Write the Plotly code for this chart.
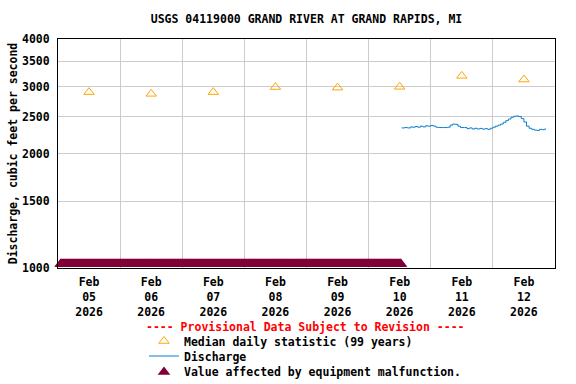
import plotly.graph_objects as go
import pandas as pd
import math

TITLE = "USGS 04119000 GRAND RIVER AT GRAND RAPIDS, MI"
Y_TITLE = "Discharge, cubic feet per second"

# Median daily statistic (99 years), plotted at noon of each day
median_dates = ["2026-02-05 12:00", "2026-02-06 12:00", "2026-02-07 12:00", "2026-02-08 12:00",
                "2026-02-09 12:00", "2026-02-10 12:00", "2026-02-11 12:00", "2026-02-12 12:00"]
median_values = [2900, 2870, 2900, 2990, 2980, 2995, 3200, 3130]

# Discharge (cfs)
discharge_times = [
    "2026-02-10 12:45", "2026-02-10 14:00", "2026-02-10 15:00", "2026-02-10 16:15", "2026-02-10 17:00",
    "2026-02-10 18:00", "2026-02-10 19:00", "2026-02-10 20:00", "2026-02-10 21:00", "2026-02-10 22:00",
    "2026-02-10 23:00", "2026-02-11 00:00", "2026-02-11 01:00", "2026-02-11 02:00", "2026-02-11 03:00",
    "2026-02-11 05:00", "2026-02-11 06:30", "2026-02-11 07:30", "2026-02-11 08:30", "2026-02-11 09:30",
    "2026-02-11 10:30", "2026-02-11 11:30", "2026-02-11 13:00", "2026-02-11 14:00", "2026-02-11 15:00",
    "2026-02-11 16:00", "2026-02-11 17:00", "2026-02-11 18:00", "2026-02-11 19:00", "2026-02-11 20:00",
    "2026-02-11 21:00", "2026-02-11 22:00", "2026-02-11 23:00", "2026-02-12 00:00", "2026-02-12 01:00",
    "2026-02-12 02:00", "2026-02-12 03:00", "2026-02-12 04:00", "2026-02-12 05:00", "2026-02-12 06:00",
    "2026-02-12 07:00", "2026-02-12 08:00", "2026-02-12 09:00", "2026-02-12 10:00", "2026-02-12 11:00",
    "2026-02-12 12:00", "2026-02-12 13:00", "2026-02-12 14:00", "2026-02-12 15:00", "2026-02-12 16:00",
    "2026-02-12 17:00", "2026-02-12 18:00", "2026-02-12 19:00", "2026-02-12 20:00", "2026-02-12 20:30",
]
discharge_values = [
    2335, 2340, 2335, 2350, 2345,
    2355, 2345, 2360, 2350, 2365,
    2360, 2370, 2360, 2345, 2340,
    2340, 2345, 2375, 2390, 2385,
    2360, 2340, 2340, 2325, 2335,
    2320, 2330, 2320, 2328, 2318,
    2325, 2315, 2330, 2345, 2360,
    2375, 2390, 2415, 2440, 2465,
    2490, 2505, 2510, 2500, 2470,
    2420, 2360, 2330, 2315, 2305,
    2300, 2315, 2310, 2320, 2318,
]

# Period flagged "Value affected by equipment malfunction" (15-minute records)
MALFUNCTION_START = "2026-02-05 01:00"
MALFUNCTION_END = "2026-02-10 12:30"
MALFUNCTION_LEVEL = 1024

# Axis
x_range = ["2026-02-05 00:00", "2026-02-13 00:00"]
day_boundaries = ["2026-02-06", "2026-02-07", "2026-02-08", "2026-02-09",
                  "2026-02-10", "2026-02-11", "2026-02-12"]
x_tick_labels = ["Feb<br>05<br>2026", "Feb<br>06<br>2026", "Feb<br>07<br>2026", "Feb<br>08<br>2026",
                 "Feb<br>09<br>2026", "Feb<br>10<br>2026", "Feb<br>11<br>2026", "Feb<br>12<br>2026"]
y_ticks = [1000, 1500, 2000, 2500, 3000, 3500, 4000]
y_min, y_max = 1000, 4000

FONT = "DejaVu Sans Mono"
FS = 11.5

malf_times = pd.date_range(MALFUNCTION_START, MALFUNCTION_END, freq="15min")

fig = go.Figure()
fig.add_trace(go.Scatter(
    x=median_dates, y=median_values, mode="markers",
    name="<b>Median daily statistic (99 years)</b>", legend="legend",
    marker=dict(symbol="triangle-up-open", size=9, color="#FFA500", line=dict(width=1, color="#FFA500")),
))
fig.add_trace(go.Scatter(
    x=discharge_times, y=discharge_values, mode="lines",
    name="<b>Discharge</b>", legend="legend2",
    line=dict(color="#0A7FCF", width=1, shape="hv"),
))
fig.add_trace(go.Scatter(
    x=malf_times, y=[MALFUNCTION_LEVEL] * len(malf_times), mode="markers",
    name="<b>Value affected by equipment malfunction.</b>", legend="legend3",
    marker=dict(symbol="triangle-up", size=11, color="#800038", line=dict(width=0)),
    cliponaxis=False,
))

def leg(y):
    return dict(x=0.173, xanchor="left", y=y, yanchor="middle", orientation="v",
                font=dict(family=FONT, size=FS), bgcolor="rgba(0,0,0,0)", itemwidth=30)

fig.update_layout(
    width=576, height=384,
    margin=dict(l=58, r=21, t=39, b=116, autoexpand=False),
    paper_bgcolor="white", plot_bgcolor="white",
    font=dict(family=FONT, size=FS, color="black"),
    title=dict(text="<b>" + TITLE + "</b>", x=(58 + 555) / 2 / 576, xanchor="center",
               y=1 - 19 / 384, yanchor="middle", font=dict(family=FONT, size=FS)),
    showlegend=True,
    legend=leg(-0.3188),
    legend2=leg(-0.3843),
    legend3=leg(-0.4541),
    xaxis=dict(
        type="date", range=x_range, automargin=False,
        tickvals=median_dates, ticktext=["<b>" + t.replace("<br>", "</b><br><b>") + "</b>" for t in x_tick_labels],
        ticks="", showgrid=False, tickangle=0, ticklabelstandoff=3,
        showline=True, linecolor="black", linewidth=1, mirror=True,
        minor=dict(tickvals=day_boundaries, showgrid=True, gridcolor="#CCCCCC", gridwidth=1, ticks=""),
        zeroline=False,
    ),
    yaxis=dict(
        type="log", range=[math.log10(y_min), math.log10(y_max)], automargin=False,
        tickvals=y_ticks, ticktext=["<b>%d</b>" % v for v in y_ticks],
        ticks="", ticklabelstandoff=5,
        showgrid=True, gridcolor="#CCCCCC", gridwidth=1,
        showline=True, linecolor="black", linewidth=1, mirror=True,
        title=dict(text="<b>" + Y_TITLE + "</b>", standoff=1, font=dict(family=FONT, size=FS)),
        zeroline=False,
    ),
)
fig.add_annotation(
    text="<b>---- Provisional Data Subject to Revision ----</b>",
    xref="paper", yref="paper", x=0.497, y=-0.258, xanchor="center", yanchor="middle",
    showarrow=False, font=dict(family=FONT, size=FS, color="#FF0000"),
)
fig.write_html("out.html", config={"displayModeBar": False},
               post_script="document.body.style.margin='0px';document.body.style.overflow='hidden';")
